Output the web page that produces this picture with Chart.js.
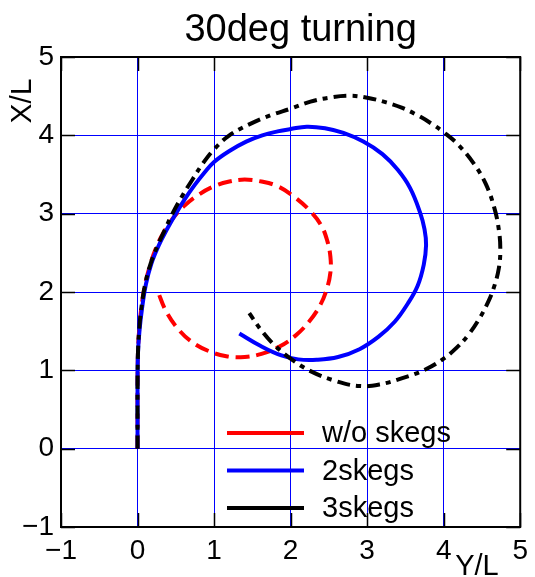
<!DOCTYPE html>
<html>
<head>
<meta charset="utf-8">
<title>30deg turning</title>
<script src="https://cdn.jsdelivr.net/npm/chart.js@4/dist/chart.umd.min.js"></script>
<style>
    html, body { margin: 0; padding: 0; background: #fff; }
    #wrap { width: 535px; height: 577px; }
</style>
</head>
<body>
<div id="wrap"><canvas id="turnChart"></canvas></div>
<script>
// Turning trajectories, 30deg rudder: lateral (Y/L) vs advance (X/L)

const chartTitle = "30deg turning";
const seriesNames = ["w/o skegs", "2skegs", "3skegs"];
const tickValues = [-1, 0, 1, 2, 3, 4, 5];

// w/o skegs
const noSkegsY = [0, 0, 0, 0.005, 0.02, 0.05, 0.1, 0.16, 0.24, 0.34, 0.47, 0.6, 0.78, 1.0, 1.2, 1.4, 1.62, 1.83, 2.04, 2.26, 2.4, 2.48, 2.52, 2.52, 2.47, 2.38, 2.24, 2.06, 1.85, 1.62, 1.4, 1.16, 0.92, 0.7, 0.52, 0.37, 0.26];
const noSkegsX = [0, 0.4, 0.8, 1.2, 1.5, 1.8, 2.1, 2.33, 2.56, 2.76, 2.95, 3.09, 3.23, 3.35, 3.41, 3.435, 3.41, 3.35, 3.22, 3.03, 2.85, 2.65, 2.45, 2.25, 2.03, 1.82, 1.62, 1.44, 1.3, 1.21, 1.17, 1.18, 1.25, 1.37, 1.54, 1.76, 2.02];

// 2skegs
const twoSkegsY = [0, 0, 0, 0.005, 0.025, 0.06, 0.11, 0.18, 0.28, 0.39, 0.5, 0.62, 0.75, 0.87, 1.0, 1.2, 1.42, 1.63, 1.83, 2.0, 2.21, 2.45, 2.69, 2.95, 3.2, 3.4, 3.56, 3.69, 3.75, 3.77, 3.74, 3.66, 3.53, 3.36, 3.15, 2.9, 2.62, 2.34, 2.1, 1.88, 1.61, 1.33];
const twoSkegsX = [0, 0.4, 0.8, 1.2, 1.5, 1.8, 2.1, 2.36, 2.6, 2.81, 3.0, 3.19, 3.37, 3.52, 3.66, 3.8, 3.92, 4.0, 4.05, 4.08, 4.11, 4.09, 4.03, 3.92, 3.76, 3.56, 3.33, 3.02, 2.8, 2.6, 2.35, 2.08, 1.85, 1.62, 1.43, 1.27, 1.17, 1.135, 1.14, 1.19, 1.31, 1.47];

// 3skegs
const threeSkegsY = [0, 0, 0, 0.005, 0.02, 0.05, 0.1, 0.17, 0.27, 0.36, 0.45, 0.58, 0.72, 0.86, 1.0, 1.2, 1.48, 1.75, 2.0, 2.26, 2.5, 2.77, 3.0, 3.25, 3.46, 3.67, 3.84, 4.0, 4.19, 4.4, 4.55, 4.66, 4.72, 4.74, 4.72, 4.66, 4.58, 4.46, 4.32, 4.17, 4.0, 3.76, 3.46, 3.16, 2.9, 2.6, 2.26, 2.0, 1.79, 1.61, 1.46];
const threeSkegsX = [0, 0.4, 0.8, 1.2, 1.5, 1.8, 2.1, 2.36, 2.61, 2.8, 2.99, 3.22, 3.44, 3.65, 3.82, 4.0, 4.15, 4.26, 4.34, 4.43, 4.48, 4.505, 4.48, 4.42, 4.35, 4.25, 4.15, 4.04, 3.88, 3.63, 3.38, 3.08, 2.8, 2.54, 2.3, 2.07, 1.87, 1.65, 1.45, 1.29, 1.15, 1.01, 0.9, 0.82, 0.8, 0.86, 0.99, 1.15, 1.32, 1.52, 1.73];

const FONT = "'Liberation Sans', Arial, Helvetica, sans-serif";

function toPoints(ys, xs) {
    return ys.map((v, i) => ({ x: v, y: xs[i] }));
}

function fmtTick(value) {
    return value < 0 ? "\u2212" + Math.abs(value) : String(value);
}

// frame, inside ticks, legend, title and axis names
const decorPlugin = {
    id: "decor",
    afterDatasetsDraw(chart) {
        const ctx = chart.ctx;
        const { left, right, top, bottom } = chart.chartArea;
        const xs = chart.scales.x;
        const ys = chart.scales.y;
        const tickLen = 14;

        ctx.save();
        ctx.strokeStyle = "#000";
        ctx.lineWidth = 1.5;
        ctx.beginPath();
        tickValues.forEach(v => {
            const px = Math.round(xs.getPixelForValue(v)) + 0.5;
            ctx.moveTo(px, bottom);
            ctx.lineTo(px, bottom - tickLen);
            ctx.moveTo(px, top);
            ctx.lineTo(px, top + tickLen);
            const py = Math.round(ys.getPixelForValue(v)) + 0.5;
            ctx.moveTo(left, py);
            ctx.lineTo(left + tickLen, py);
            ctx.moveTo(right, py);
            ctx.lineTo(right - tickLen, py);
        });
        ctx.stroke();

        ctx.lineWidth = 2;
        ctx.strokeRect(left, top, right - left, bottom - top);
        ctx.restore();
    },
    afterDraw(chart) {
        const ctx = chart.ctx;
        const { left, right, top, bottom } = chart.chartArea;

        ctx.save();
        ctx.fillStyle = "#000";

        // title
        ctx.font = "38px " + FONT;
        ctx.textAlign = "center";
        ctx.textBaseline = "alphabetic";
        ctx.fillText(chartTitle, (left + right) / 2 + 10, 41);

        // axis names
        ctx.font = "30px " + FONT;
        ctx.save();
        ctx.translate(31, top + 44);
        ctx.rotate(-Math.PI / 2);
        ctx.textAlign = "center";
        ctx.fillText("X/L", 0, 0);
        ctx.restore();

        ctx.font = "29px " + FONT;
        ctx.textAlign = "left";
        ctx.fillText("Y/L", right - 65, bottom + 48);

        // legend inside the plot
        ctx.font = "29px " + FONT;
        ctx.textBaseline = "middle";
        const lx = left + 166;
        chart.data.datasets.forEach((ds, i) => {
            const ly = bottom - 94 + i * 37.5;
            ctx.strokeStyle = ds.borderColor;
            ctx.lineWidth = 4;
            ctx.setLineDash([]);
            ctx.beginPath();
            ctx.moveTo(lx, ly);
            ctx.lineTo(lx + 77, ly);
            ctx.stroke();
            ctx.fillText(ds.label, lx + 95, ly + 1);
        });
        ctx.restore();
    }
};

function lineSet(label, ys, xs, color, dash, order) {
    return {
        label: label,
        data: toPoints(ys, xs),
        borderColor: color,
        backgroundColor: color,
        borderWidth: 4,
        borderDash: dash,
        pointRadius: 0,
        tension: 0.4,
        fill: false,
        order: order
    };
}

const tickFont = { family: FONT, size: 28 };

new Chart(document.getElementById("turnChart"), {
    type: "line",
    data: {
        datasets: [
            lineSet(seriesNames[0], noSkegsY, noSkegsX, "#ff0000", [14, 7], 2),
            lineSet(seriesNames[1], twoSkegsY, twoSkegsX, "#0000ff", [], 1),
            lineSet(seriesNames[2], threeSkegsY, threeSkegsX, "#000000", [13, 6, 5, 6], 0)
        ]
    },
    options: {
        responsive: true,
        maintainAspectRatio: false,
        animation: false,
        layout: { padding: { top: 57, right: 8, left: 0, bottom: 0 } },
        plugins: {
            legend: { display: false },
            title: { display: false },
            tooltip: { enabled: false }
        },
        scales: {
            x: {
                type: "linear",
                min: -1,
                max: 5,
                afterBuildTicks: s => { s.ticks = tickValues.map(v => ({ value: v })); },
                afterFit: s => { s.height = 50; },
                grid: { color: "#0000ff", lineWidth: 1, drawTicks: false },
                border: { display: false },
                ticks: { color: "#000", font: tickFont, padding: 7, maxRotation: 0, callback: fmtTick }
            },
            y: {
                type: "linear",
                min: -1,
                max: 5,
                afterBuildTicks: s => { s.ticks = tickValues.map(v => ({ value: v })); },
                afterFit: s => { s.width = 61; },
                grid: { color: "#0000ff", lineWidth: 1, drawTicks: false },
                border: { display: false },
                ticks: { color: "#000", font: tickFont, padding: 7, callback: fmtTick }
            }
        }
    },
    plugins: [decorPlugin]
});
</script>
</body>
</html>
